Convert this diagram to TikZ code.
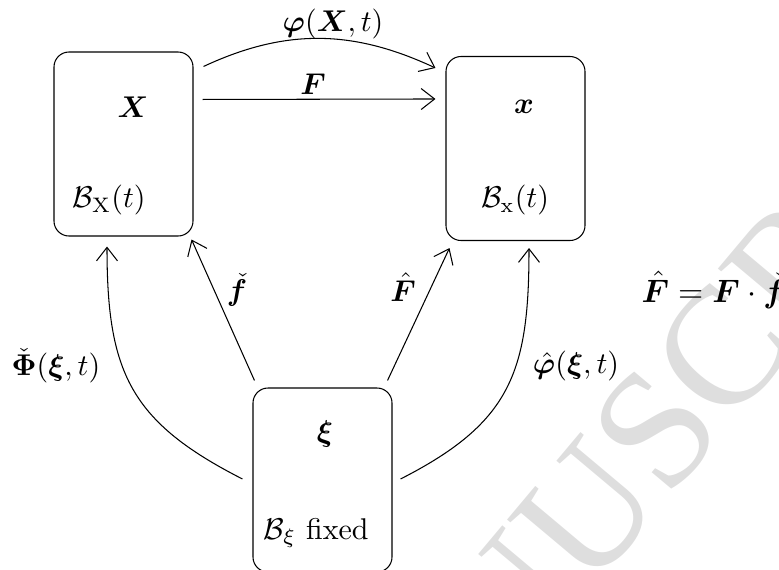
\documentclass[tikz,border=0pt]{standalone}
\usepackage{amsmath,bm}
\usepackage{fontspec}
\newfontfamily\wmfont{Liberation Serif}
\usetikzlibrary{arrows.meta,calc}
\begin{document}
\begin{tikzpicture}[x=0.3333pt,y=-0.3333pt,
  box/.style={draw, rounded corners=5pt, minimum width=46.33pt, minimum height=61.33pt, inner sep=0pt, line width=0.35pt},
  arr/.style={-{Straight Barb[length=4.5pt,width=7pt]}, line width=0.35pt},
  lbl/.style={inner sep=0pt},
  wm/.style={rotate=50, anchor=center, text=black!13, inner sep=0pt, font=\wmfont\fontsize{56}{56}\selectfont}]
\useasboundingbox (0,0) rectangle (779,569);
\clip (0,0) rectangle (779,569);
% watermark
\node[wm] (wmark) at (722,351) {\llap{MANUS}C\rlap{RIPT}};
% boxes
\node[box] (bX) at (123.5,144) {};
\node[box] (bx) at (515.5,148.5) {};
\node[box] (bxi) at (322.5,480) {};
% box texts
\node[lbl] (lX) at (133,107) {$\bm{X}$};
\node[lbl] (lBX) at (109,200) {$\mathcal{B}_{\mathrm{X}}(t)$};
\node[lbl] (lx) at (524,107) {$\bm{x}$};
\node[lbl] (lBx) at (515,200) {$\mathcal{B}_{\mathrm{x}}(t)$};
\node[lbl] (lxi) at (325,434) {$\bm{\xi}$};
\node[lbl] (lBxi) at (316,533) {$\mathcal{B}_{\xi}$ fixed};
% connectors
\draw[arr] ($(bX.north east)+(9,48)$) -- ($(bx.north west)+(-10,43)$);
\draw[arr] ($(bX.north east)+(10,15)$) to[out=25,in=155] ($(bx.north west)+(-10,12)$);
\draw[arr] ($(bxi.north west)+(2,-7)$) -- ($(bX.south east)+(-2,3)$);
\draw[arr] ($(bxi.north east)+(-5,-7)$) -- ($(bx.south west)+(4,7)$);
\draw[arr] ($(bxi.west)+(-10,-1)$) to[out=153,in=-90,looseness=1.2] ($(bX.south)+(-16.5,10)$);
\draw[arr] ($(bxi.east)+(8,-1)$) to[out=27,in=-90,looseness=1.2] ($(bx.south)+(13.5,7)$);
% connector labels
\node[lbl] (lphi) at (333,24) {$\bm{\varphi}(\bm{X},t)$};
\node[lbl] (lF) at (313,84) {$\bm{F}$};
\node[lbl] (lfc) at (237,290) {$\check{\bm{f}}$};
\node[lbl] (lFh) at (403,287) {$\hat{\bm{F}}$};
\node[lbl] (lPhi) at (56,366) {$\check{\bm{\Phi}}(\bm{\xi},t)$};
\node[lbl] (lphih) at (576,366) {$\hat{\bm{\varphi}}(\bm{\xi},t)$};
\node[lbl, anchor=west, scale=1.08] (leq) at (641,290) {$\hat{\bm{F}} = \bm{F}\cdot\check{\bm{f}}$};
\end{tikzpicture}
\end{document}
